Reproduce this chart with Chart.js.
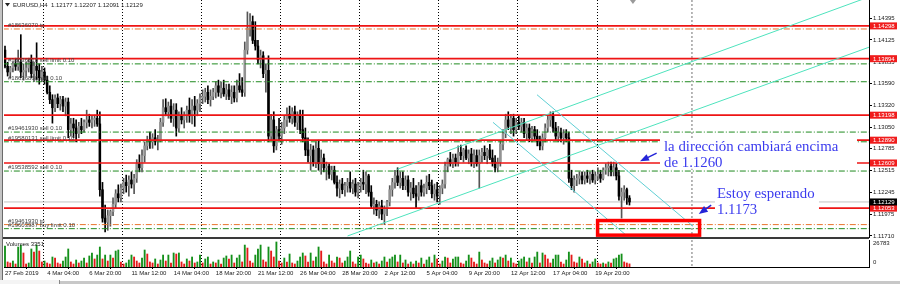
<!DOCTYPE html>
<html lang="es">
<head>
  <meta charset="UTF-8">
  <title>EURUSD,H4</title>
  <script src="https://cdn.jsdelivr.net/npm/chart.js"></script>
  <style>
    body {
      margin: 0;
      width: 900px;
      height: 284px;
      position: relative;
      overflow: hidden;
      background: #fff;
    }
    canvas { position: absolute; left: 0; }
    #mainChart { top: 0; }
    #volChart { top: 239px; }
    #frameLeft { position: absolute; left: 0; top: 0; width: 2px; height: 281px; background: #c4c4c4; }
    #frameLeft2 { position: absolute; left: 2px; top: 0; width: 1px; height: 281px; background: #6a6a6a; }
    #panelSep { position: absolute; left: 3px; top: 237px; width: 866px; height: 2px; background: #3a3a3a; }
    #bottomBar { position: absolute; left: 0; top: 281px; width: 900px; height: 3px; background: #c8c8c8; }
    #tab { position: absolute; left: 0; top: 280px; width: 59px; height: 4px; background: #f4f4f4; border-right: 1px solid #888; }
  </style>
</head>
<body>
  <canvas id="mainChart" width="900" height="238"></canvas>
  <canvas id="volChart" width="900" height="41"></canvas>
  <div id="frameLeft"></div>
  <div id="frameLeft2"></div>
  <div id="panelSep"></div>
  <div id="bottomBar"></div>
  <div id="tab"></div>

  <script>
    // EURUSD H4, 27 Feb 2019 12:00 -> 24 Apr 2019 00:00 (one entry per bar)
    const opens = [
      1.1400,1.1380,1.1373,1.1378,1.1383,1.1380,1.1385,1.1373,1.1375,1.1378,
      1.1385,1.1371,1.1380,1.1375,1.1366,1.1373,1.1363,1.1348,1.1339,1.1329,
      1.1341,1.1334,1.1339,1.1331,1.1336,1.1302,1.1309,1.1304,1.1297,1.1306,
      1.1302,1.1311,1.1314,1.1311,1.1314,1.1316,1.1309,1.1228,1.1193,1.1188,
      1.1196,1.1201,1.1210,1.1223,1.1218,1.1230,1.1237,1.1233,1.1240,1.1235,
      1.1242,1.1260,1.1255,1.1270,1.1282,1.1289,1.1287,1.1292,1.1287,1.1289,
      1.1311,1.1329,1.1324,1.1331,1.1316,1.1326,1.1304,1.1319,1.1314,1.1319,
      1.1326,1.1319,1.1331,1.1326,1.1334,1.1341,1.1343,1.1348,1.1339,1.1343,
      1.1348,1.1356,1.1348,1.1353,1.1346,1.1351,1.1343,1.1348,1.1341,1.1356,
      1.1351,1.1348,1.1400,1.1427,1.1435,1.1412,1.1405,1.1388,1.1393,1.1371,
      1.1375,1.1294,1.1314,1.1282,1.1302,1.1294,1.1304,1.1314,1.1321,1.1316,
      1.1324,1.1311,1.1319,1.1302,1.1292,1.1277,1.1270,1.1277,1.1262,1.1279,
      1.1260,1.1267,1.1255,1.1257,1.1247,1.1252,1.1237,1.1230,1.1235,1.1228,
      1.1233,1.1237,1.1230,1.1235,1.1225,1.1233,1.1237,1.1235,1.1245,1.1225,
      1.1208,1.1210,1.1203,1.1208,1.1198,1.1205,1.1213,1.1228,1.1237,1.1245,
      1.1237,1.1242,1.1233,1.1240,1.1225,1.1230,1.1223,1.1220,1.1233,1.1225,
      1.1230,1.1237,1.1233,1.1223,1.1228,1.1220,1.1230,1.1235,1.1257,1.1265,
      1.1260,1.1267,1.1262,1.1274,1.1270,1.1277,1.1267,1.1272,1.1262,1.1270,
      1.1260,1.1270,1.1274,1.1270,1.1277,1.1267,1.1262,1.1255,1.1262,1.1284,
      1.1297,1.1314,1.1306,1.1316,1.1302,1.1311,1.1306,1.1311,1.1297,1.1304,
      1.1292,1.1302,1.1294,1.1287,1.1282,1.1292,1.1304,1.1314,1.1319,1.1304,
      1.1294,1.1299,1.1292,1.1297,1.1292,1.1242,1.1233,1.1240,1.1242,1.1245,
      1.1240,1.1245,1.1242,1.1247,1.1240,1.1245,1.1247,1.1242,1.1252,1.1255,
      1.1257,1.1250,1.1255,1.1245,1.1220,1.1225,1.1228,1.12177
    ];
    const highs = [
      1.1405,1.1385,1.1380,1.1385,1.1390,1.1400,1.1419,1.1383,1.1385,1.1390,
      1.1394,1.1385,1.1409,1.1383,1.1380,1.1378,1.1368,1.1356,1.1345,1.1345,
      1.1346,1.1343,1.1343,1.1341,1.1341,1.1316,1.1316,1.1314,1.1311,1.1316,
      1.1314,1.1326,1.1321,1.1319,1.1320,1.1326,1.1324,1.1237,1.1209,1.1203,
      1.1203,1.1218,1.1228,1.1234,1.1235,1.1242,1.1246,1.1245,1.1250,1.1247,
      1.1265,1.1271,1.1277,1.1287,1.1294,1.1299,1.1297,1.1302,1.1295,1.1316,
      1.1339,1.1340,1.1336,1.1339,1.1334,1.1334,1.1324,1.1329,1.1324,1.1331,
      1.1341,1.1339,1.1343,1.1339,1.1346,1.1351,1.1353,1.1356,1.1351,1.1353,
      1.1361,1.1363,1.1361,1.1363,1.1358,1.1358,1.1356,1.1356,1.1363,1.1371,
      1.1366,1.1410,1.1447,1.1445,1.1442,1.1435,1.1412,1.1400,1.1398,1.1383,
      1.1393,1.1321,1.1324,1.1306,1.1316,1.1311,1.1319,1.1329,1.1331,1.1329,
      1.1331,1.1324,1.1326,1.1326,1.1304,1.1292,1.1284,1.1282,1.1287,1.1289,
      1.1277,1.1272,1.1262,1.1260,1.1257,1.1257,1.1245,1.1240,1.1242,1.1237,
      1.1242,1.1250,1.1240,1.1242,1.1237,1.1242,1.1252,1.1250,1.1247,1.1233,
      1.1218,1.1215,1.1213,1.1215,1.1208,1.1215,1.1233,1.1242,1.1252,1.1255,
      1.1250,1.1250,1.1245,1.1245,1.1237,1.1242,1.1233,1.1237,1.1240,1.1235,
      1.1245,1.1247,1.1240,1.1235,1.1237,1.1233,1.1240,1.1262,1.1267,1.1274,
      1.1272,1.1272,1.1282,1.1283,1.1279,1.1282,1.1277,1.1279,1.1277,1.1277,
      1.1277,1.1279,1.1282,1.1279,1.1284,1.1277,1.1270,1.1267,1.1289,1.1302,
      1.1321,1.1324,1.1321,1.1321,1.1316,1.1319,1.1316,1.1316,1.1309,1.1309,
      1.1306,1.1306,1.1302,1.1294,1.1297,1.1309,1.1319,1.1324,1.1324,1.1311,
      1.1306,1.1304,1.1302,1.1302,1.1299,1.1252,1.1245,1.1247,1.1250,1.1250,
      1.1250,1.1252,1.1250,1.1252,1.1250,1.1255,1.1252,1.1255,1.1260,1.1262,
      1.1262,1.1262,1.1260,1.1252,1.1230,1.1233,1.1230,1.12207
    ];
    const lows = [
      1.1378,1.1368,1.1366,1.1373,1.1375,1.1375,1.1366,1.1363,1.1368,1.1373,
      1.1366,1.1361,1.1363,1.1358,1.1361,1.1358,1.1346,1.1334,1.1310,1.1324,
      1.1329,1.1326,1.1324,1.1319,1.1292,1.1294,1.1292,1.1287,1.1292,1.1297,
      1.1299,1.1304,1.1306,1.1304,1.1306,1.1306,1.1220,1.1188,1.1176,1.1178,
      1.1183,1.1196,1.1205,1.1213,1.1213,1.1223,1.1225,1.1220,1.1230,1.1223,
      1.1237,1.1250,1.1250,1.1262,1.1277,1.1279,1.1279,1.1283,1.1277,1.1287,
      1.1306,1.1319,1.1316,1.1311,1.1306,1.1294,1.1299,1.1309,1.1304,1.1311,
      1.1311,1.1309,1.1306,1.1319,1.1324,1.1334,1.1336,1.1334,1.1331,1.1339,
      1.1341,1.1343,1.1341,1.1343,1.1339,1.1339,1.1334,1.1336,1.1336,1.1348,
      1.1343,1.1343,1.1395,1.1417,1.1408,1.1400,1.1383,1.1378,1.1366,1.1348,
      1.1287,1.1289,1.1274,1.1277,1.1289,1.1284,1.1297,1.1306,1.1311,1.1309,
      1.1306,1.1302,1.1297,1.1287,1.1270,1.1262,1.1252,1.1257,1.1255,1.1252,
      1.1247,1.1250,1.1240,1.1242,1.1240,1.1235,1.1220,1.1218,1.1223,1.1220,
      1.1225,1.1225,1.1223,1.1220,1.1218,1.1225,1.1228,1.1223,1.1220,1.1205,
      1.1198,1.1196,1.1193,1.1191,1.1185,1.1196,1.1208,1.1220,1.1230,1.1233,
      1.1230,1.1228,1.1228,1.1220,1.1215,1.1218,1.1205,1.1215,1.1220,1.1220,
      1.1223,1.1228,1.1218,1.1215,1.1213,1.1210,1.1223,1.1230,1.1250,1.1257,
      1.1255,1.1257,1.1257,1.1265,1.1262,1.1265,1.1260,1.1257,1.1255,1.1257,
      1.1230,1.1262,1.1265,1.1260,1.1265,1.1257,1.1250,1.1250,1.1257,1.1277,
      1.1292,1.1302,1.1297,1.1294,1.1297,1.1302,1.1299,1.1292,1.1289,1.1287,
      1.1287,1.1289,1.1282,1.1277,1.1277,1.1287,1.1299,1.1306,1.1299,1.1289,
      1.1287,1.1287,1.1284,1.1287,1.1237,1.1228,1.1225,1.1233,1.1235,1.1235,
      1.1235,1.1237,1.1235,1.1237,1.1235,1.1240,1.1237,1.1240,1.1247,1.1245,
      1.1245,1.1245,1.1240,1.1215,1.1193,1.1215,1.1210,1.12091
    ];
    const closes = [
      1.1380,1.1373,1.1378,1.1383,1.1380,1.1385,1.1373,1.1375,1.1378,1.1385,
      1.1371,1.1380,1.1375,1.1366,1.1373,1.1363,1.1348,1.1339,1.1329,1.1341,
      1.1334,1.1339,1.1331,1.1336,1.1302,1.1309,1.1304,1.1297,1.1306,1.1302,
      1.1311,1.1314,1.1311,1.1314,1.1316,1.1309,1.1228,1.1193,1.1188,1.1196,
      1.1201,1.1210,1.1223,1.1218,1.1230,1.1237,1.1233,1.1240,1.1235,1.1242,
      1.1260,1.1255,1.1270,1.1282,1.1289,1.1287,1.1292,1.1287,1.1289,1.1311,
      1.1329,1.1324,1.1331,1.1316,1.1326,1.1304,1.1319,1.1314,1.1319,1.1326,
      1.1319,1.1331,1.1326,1.1334,1.1341,1.1343,1.1348,1.1339,1.1343,1.1348,
      1.1356,1.1348,1.1353,1.1346,1.1351,1.1343,1.1348,1.1341,1.1356,1.1351,
      1.1348,1.1400,1.1427,1.1435,1.1412,1.1405,1.1388,1.1393,1.1371,1.1375,
      1.1294,1.1314,1.1282,1.1302,1.1294,1.1304,1.1314,1.1321,1.1316,1.1324,
      1.1311,1.1319,1.1302,1.1292,1.1277,1.1270,1.1277,1.1262,1.1279,1.1260,
      1.1267,1.1255,1.1257,1.1247,1.1252,1.1237,1.1230,1.1235,1.1228,1.1233,
      1.1237,1.1230,1.1235,1.1225,1.1233,1.1237,1.1235,1.1245,1.1225,1.1208,
      1.1210,1.1203,1.1208,1.1198,1.1205,1.1213,1.1228,1.1237,1.1245,1.1237,
      1.1242,1.1233,1.1240,1.1225,1.1230,1.1223,1.1220,1.1233,1.1225,1.1230,
      1.1237,1.1233,1.1223,1.1228,1.1220,1.1230,1.1235,1.1257,1.1265,1.1260,
      1.1267,1.1262,1.1274,1.1270,1.1277,1.1267,1.1272,1.1262,1.1270,1.1260,
      1.1270,1.1274,1.1270,1.1277,1.1267,1.1262,1.1255,1.1262,1.1284,1.1297,
      1.1314,1.1306,1.1316,1.1302,1.1311,1.1306,1.1311,1.1297,1.1304,1.1292,
      1.1302,1.1294,1.1287,1.1282,1.1292,1.1304,1.1314,1.1319,1.1304,1.1294,
      1.1299,1.1292,1.1297,1.1292,1.1242,1.1233,1.1240,1.1242,1.1245,1.1240,
      1.1245,1.1242,1.1247,1.1240,1.1245,1.1247,1.1242,1.1252,1.1255,1.1257,
      1.1250,1.1255,1.1245,1.1220,1.1225,1.1228,1.1218,1.12129
    ];
    const volumes = [
      22500,5400,4300,6400,3200,21400,23500,15000,3200,4300,
      19300,16000,23500,17100,5400,6400,4300,3200,10700,9600,
      4300,3200,6400,10700,19300,5400,3200,7500,4300,6400,
      9600,4300,11800,15000,8600,12800,21400,8600,12800,6400,
      12800,9600,17100,18200,5400,3200,4300,7500,12800,10700,
      6400,4300,9600,18200,13900,5400,4300,8600,3200,7500,
      12800,6400,12800,4300,15000,13900,15000,5400,3200,8600,
      6400,10700,4300,5400,12800,4300,8600,10700,3200,5400,
      4300,7500,3200,9600,11800,8600,12800,4300,9600,12800,
      5400,23500,20300,6400,4300,12800,19300,23500,7500,5400,
      21400,17100,10700,26783,6400,4300,9600,5400,13900,4300,
      3200,6400,10700,15000,11800,5400,15000,6400,10700,21400,
      17100,5400,3200,12800,6400,4300,10700,9600,4300,6400,
      10700,17100,5400,3200,10700,12800,8600,4300,3200,7500,
      4300,5400,3200,6400,10700,5400,8600,10700,12800,5400,
      12800,4300,7500,3200,5400,3200,6400,4300,9600,3200,
      7500,10700,4300,12800,8600,3200,6400,10700,9600,4300,
      8600,10700,10700,4300,3200,6400,12800,9600,5400,3200,
      16000,7500,4300,3200,6400,9600,4300,7500,10700,9600,
      12800,6400,9600,4300,3200,6400,8600,10700,5400,9600,
      4300,10700,16000,4300,15000,12800,8600,4300,8600,12800,
      12800,5400,3200,7500,16000,12800,5400,4300,10700,8600,
      4300,6400,3200,5400,8600,4300,3200,4300,3200,5400,
      4300,8600,9600,12800,13900,5400,4300,3351
    ];

    const timeTickBars = [0, 16, 32, 48, 64, 80, 96, 112, 128, 144, 160, 176, 192, 208, 224];
    const timeLabels = ['27 Feb 2019', '4 Mar 04:00', '6 Mar 20:00', '11 Mar 12:00', '14 Mar 04:00',
      '18 Mar 20:00', '21 Mar 12:00', '26 Mar 04:00', '28 Mar 20:00', '2 Apr 12:00',
      '5 Apr 04:00', '9 Apr 20:00', '12 Apr 12:00', '17 Apr 04:00', '19 Apr 20:00'];
    const priceTicks = [1.11710, 1.11975, 1.12245, 1.12515, 1.12785, 1.13050, 1.13320, 1.13590, 1.13855, 1.14125, 1.14395];
    const volumeTicks = [0, 26783];

    // horizontal levels
    const redLevels = [1.14298, 1.13894, 1.13198, 1.12890, 1.12609, 1.12053];
    const bidPrice = 1.12129;
    const orderPrices = [1.1426, 1.1383, 1.1361, 1.1299, 1.1287, 1.1251, 1.1185, 1.1180];
    const orderLabels = ['#18636070 tp', '#18636810 sell limit 0.10', '#18636860 sell 0.10', '#19461930 sell 0.10',
      '#19580131 sell limit 0.10', '#19538592 sell 0.10', '#19461930 tp', '#19603987 buy limit 0.10'];
    const orderIsTp = [true, false, false, false, false, false, true, false];

    // week separators and the grey vertical line (bar index)
    const separatorBars = [14.5, 44.5, 74.5, 104.5, 134.5, 164.5, 194.5, 224.5];
    const markerBar = 260.7;
    const shiftBar = 238.3;

    // drawn objects, [bar, price]
    const channelTop = [[148.7, 1.1253], [330, 1.1468]];
    const channelBottom = [[130, 1.1171], [330, 1.1406]];
    const downLineA = [[201.9, 1.1345], [261.1, 1.1183]];
    const downLineB = [[185.2, 1.1311], [236.1, 1.1171]];
    const targetBox = [[224.9, 1.1190], [263.6, 1.1172]];
    const arrow1 = [[247.3, 1.1273], [241.0, 1.1263]];
    const arrow2 = [[268.0, 1.1209], [263.3, 1.1198]];
    const note1Lines = ['la dirección cambiará encima', 'de 1.1260'];
    const note1Anchor = [250.1, 1.1276];
    const note2Lines = ['Estoy esperando', '1.1173'];
    const note2Anchor = [270.2, 1.1218];

    const FONT = "'Liberation Sans', Arial, sans-serif";
    Chart.defaults.font.family = FONT;

    const X_MIN = -0.38, X_MAX = 327.9;
    const bars = closes.map((c, i) => i);
    const isBull = bars.map(i => closes[i] >= opens[i]);

    function hline(price, color, width, dash, order) {
      return {
        type: 'line', data: [{ x: -5, y: price }, { x: 335, y: price }],
        borderColor: color, borderWidth: width, borderDash: dash || [],
        pointRadius: 0, order: order, fill: false
      };
    }
    function segLine(pts, color, width, order) {
      return {
        type: 'line', data: pts.map(p => ({ x: p[0], y: p[1] })),
        borderColor: color, borderWidth: width, pointRadius: 0, order: order, fill: false
      };
    }

    const datasets = [];
    // candles
    datasets.push({
      type: 'bar', data: bars.map(i => ({ x: i, y: [lows[i], highs[i]] })),
      backgroundColor: bars.map(i => isBull[i] ? '#555' : '#000'),
      barThickness: 1, grouped: false, order: 21
    });
    datasets.push({
      type: 'bar', data: bars.map(i => ({ x: i, y: [opens[i], closes[i]] })),
      backgroundColor: bars.map(i => isBull[i] ? '#929292' : '#000'),
      barThickness: 1.9, minBarLength: 1, grouped: false, order: 20
    });
    // bid line
    datasets.push(hline(bidPrice, '#c4c4c4', 1, null, 22));
    // order lines
    orderPrices.forEach((p, k) => {
      datasets.push(hline(p, orderIsTp[k] ? '#e8742c' : '#1f8a1f', 1, [6, 2, 1, 2], 8));
    });
    // red levels
    redLevels.forEach(p => datasets.push(hline(p, '#ee1414', 1.7, null, 6)));
    // channel and trend lines
    datasets.push(segLine(channelTop, '#4ee3bd', 1, 4));
    datasets.push(segLine(channelBottom, '#4ee3bd', 1, 4));
    datasets.push(segLine(downLineA, '#5fcfd4', 1, 4));
    datasets.push(segLine(downLineB, '#5fcfd4', 1, 4));

    function drawArrow(ctx, xs, ys, seg) {
      const x1 = xs.getPixelForValue(seg[0][0]), y1 = ys.getPixelForValue(seg[0][1]);
      const x2 = xs.getPixelForValue(seg[1][0]), y2 = ys.getPixelForValue(seg[1][1]);
      const a = Math.atan2(y2 - y1, x2 - x1);
      ctx.save();
      ctx.strokeStyle = '#2424d8';
      ctx.fillStyle = '#2424d8';
      ctx.lineWidth = 1.5;
      ctx.beginPath();
      ctx.moveTo(x1, y1);
      ctx.lineTo(x2 - 5 * Math.cos(a), y2 - 5 * Math.sin(a));
      ctx.stroke();
      ctx.beginPath();
      ctx.moveTo(x2, y2);
      ctx.lineTo(x2 - 9 * Math.cos(a) + 3.5 * Math.sin(a), y2 - 9 * Math.sin(a) - 3.5 * Math.cos(a));
      ctx.lineTo(x2 - 9 * Math.cos(a) - 3.5 * Math.sin(a), y2 - 9 * Math.sin(a) + 3.5 * Math.cos(a));
      ctx.closePath();
      ctx.fill();
      ctx.restore();
    }

    function drawNote(ctx, xs, ys, anchor, lines, box) {
      const x = xs.getPixelForValue(anchor[0]);
      const y = ys.getPixelForValue(anchor[1]);
      ctx.save();
      ctx.fillStyle = '#fff';
      ctx.fillRect(x + box.left, y + box.top, box.width, box.height);
      ctx.fillStyle = '#3a3aee';
      ctx.font = "14px 'Liberation Serif', 'Times New Roman', serif";
      ctx.textBaseline = 'alphabetic';
      lines.forEach((t, k) => {
        ctx.save();
        ctx.translate(x, y + k * 16);
        ctx.scale(1.06, 1);
        ctx.fillText(t, 0, 0);
        ctx.restore();
      });
      ctx.restore();
    }

    const mainPlugin = {
      id: 'mt4main',
      beforeDatasetsDraw(chart) {
        const { ctx, chartArea: a, scales: { x: xs } } = chart;
        ctx.save();
        ctx.strokeStyle = '#000';
        ctx.lineWidth = 1;
        ctx.setLineDash([1, 2]);
        separatorBars.forEach(b => {
          const px = Math.round(xs.getPixelForValue(b)) + 0.5;
          ctx.beginPath(); ctx.moveTo(px, a.top); ctx.lineTo(px, a.bottom); ctx.stroke();
        });
        ctx.strokeStyle = '#a0a0a0';
        ctx.lineWidth = 1.5;
        ctx.setLineDash([2, 2]);
        const mx = xs.getPixelForValue(markerBar);
        ctx.beginPath(); ctx.moveTo(mx, a.top); ctx.lineTo(mx, a.bottom); ctx.stroke();
        ctx.restore();
      },
      afterDatasetsDraw(chart) {
        const { ctx, chartArea: a, scales: { x: xs, y: ys } } = chart;
        ctx.save();
        ctx.beginPath();
        ctx.rect(a.left, a.top, a.right - a.left, a.bottom - a.top);
        ctx.clip();

        // order labels
        ctx.font = '6px ' + FONT;
        ctx.fillStyle = '#404040';
        ctx.textBaseline = 'bottom';
        orderPrices.forEach((p, k) => {
          ctx.fillText(orderLabels[k], 8, ys.getPixelForValue(p) - 0.5);
        });

        // target rectangle
        const bx1 = xs.getPixelForValue(targetBox[0][0]), by1 = ys.getPixelForValue(targetBox[0][1]);
        const bx2 = xs.getPixelForValue(targetBox[1][0]), by2 = ys.getPixelForValue(targetBox[1][1]);
        ctx.strokeStyle = '#f00';
        ctx.lineWidth = 3.5;
        ctx.strokeRect(bx1, by1, bx2 - bx1, by2 - by1);

        // text notes and arrows
        drawNote(ctx, xs, ys, note1Anchor, note1Lines, { left: -4, top: -12, width: 197, height: 30 });
        drawNote(ctx, xs, ys, note2Anchor, note2Lines, { left: -2, top: -12, width: 104, height: 29 });
        drawArrow(ctx, xs, ys, arrow1);
        drawArrow(ctx, xs, ys, arrow2);

        // header
        ctx.fillStyle = '#222';
        ctx.beginPath(); ctx.moveTo(5, 3); ctx.lineTo(10, 3); ctx.lineTo(7.5, 6.5); ctx.closePath(); ctx.fill();
        ctx.font = '6px ' + FONT;
        ctx.textBaseline = 'middle';
        ctx.fillText('EURUSD,H4  1.12177 1.12207 1.12091 1.12129', 13, 5);

        // chart shift marker
        const sx = xs.getPixelForValue(shiftBar);
        ctx.fillStyle = '#9a9a9a';
        ctx.beginPath(); ctx.moveTo(sx - 3, 0); ctx.lineTo(sx + 3, 0); ctx.lineTo(sx, 4); ctx.closePath(); ctx.fill();
        ctx.restore();
      },
      afterDraw(chart) {
        const { ctx, chartArea: a, scales: { y: ys } } = chart;
        ctx.save();
        ctx.font = '6px ' + FONT;
        ctx.textBaseline = 'middle';
        const tag = (p, bg) => {
          const py = ys.getPixelForValue(p);
          ctx.fillStyle = bg;
          ctx.fillRect(a.right + 1, py - 3.5, 27, 7);
          ctx.fillStyle = '#fff';
          ctx.fillText(p.toFixed(5), a.right + 4, py + 0.5);
        };
        redLevels.forEach(p => tag(p, '#f01c1c'));
        tag(bidPrice, '#000');
        ctx.restore();
      }
    };

    new Chart(document.getElementById('mainChart'), {
      type: 'bar',
      data: { datasets: datasets },
      options: {
        responsive: false,
        animation: false,
        events: [],
        layout: { padding: { left: 4, right: 0, top: 0, bottom: 0 } },
        plugins: { legend: { display: false }, tooltip: { enabled: false } },
        scales: {
          x: { type: 'linear', min: X_MIN, max: X_MAX, offset: false, display: false, bounds: 'data' },
          y: {
            position: 'right', min: 1.11685, max: 1.14617, bounds: 'data',
            afterBuildTicks: s => { s.ticks = priceTicks.map(v => ({ value: v })); },
            afterFit: s => { s.width = 31; s.paddingTop = 0; s.paddingBottom = 0; },
            ticks: { autoSkip: false, font: { size: 6 }, color: '#1a1a1a', padding: 1, callback: v => v.toFixed(5) },
            grid: { drawOnChartArea: false, tickLength: 3, color: '#000' },
            border: { display: true, color: '#000' }
          }
        }
      },
      plugins: [mainPlugin]
    });

    // volume window
    const volPlugin = {
      id: 'mt4vol',
      beforeDatasetsDraw(chart) {
        const { ctx, chartArea: a, scales: { x: xs } } = chart;
        ctx.save();
        ctx.strokeStyle = '#000';
        ctx.lineWidth = 1;
        ctx.setLineDash([1, 2]);
        separatorBars.forEach(b => {
          const px = Math.round(xs.getPixelForValue(b)) + 0.5;
          ctx.beginPath(); ctx.moveTo(px, a.top); ctx.lineTo(px, a.bottom); ctx.stroke();
        });
        ctx.strokeStyle = '#a0a0a0';
        ctx.lineWidth = 1.5;
        ctx.setLineDash([2, 2]);
        const mx = xs.getPixelForValue(markerBar);
        ctx.beginPath(); ctx.moveTo(mx, a.top); ctx.lineTo(mx, a.bottom); ctx.stroke();
        ctx.restore();
      },
      afterDraw(chart) {
        const { ctx, chartArea: a, scales: { y: ys } } = chart;
        ctx.save();
        ctx.font = '6px ' + FONT;
        ctx.fillStyle = '#1a1a1a';
        ctx.textBaseline = 'middle';
        ctx.fillText('Volumes ' + volumes[volumes.length - 1], 6, a.top + 4.5);
        ctx.fillText(String(volumeTicks[1]), a.right + 4, ys.getPixelForValue(volumeTicks[1]) + 1.5);
        ctx.fillText(String(volumeTicks[0]), a.right + 4, ys.getPixelForValue(volumeTicks[0]) - 5);
        ctx.restore();
      }
    };

    new Chart(document.getElementById('volChart'), {
      type: 'bar',
      data: {
        datasets: [{
          data: bars.map(i => ({ x: i, y: volumes[i] })),
          backgroundColor: bars.map(i => (i > 0 && volumes[i] < volumes[i - 1]) ? '#e51a1a' : '#14901a'),
          barThickness: 1.2, grouped: false
        }]
      },
      options: {
        responsive: false,
        animation: false,
        events: [],
        layout: { padding: { left: 4, right: 0, top: 1, bottom: 0 } },
        plugins: { legend: { display: false }, tooltip: { enabled: false } },
        scales: {
          x: {
            type: 'linear', min: X_MIN, max: X_MAX, offset: false, bounds: 'data',
            afterBuildTicks: s => { s.ticks = timeTickBars.map(v => ({ value: v })); },
            afterFit: s => { s.height = 13; s.paddingLeft = 0; s.paddingRight = 0; },
            ticks: { autoSkip: false, maxRotation: 0, align: 'start', font: { size: 6 }, color: '#1a1a1a', padding: 1,
              callback: (v, idx) => timeLabels[idx] },
            grid: { drawOnChartArea: false, tickLength: 2, color: '#000' },
            border: { display: true, color: '#000' }
          },
          y: {
            position: 'right', min: 0, max: 28900, bounds: 'data',
            afterFit: s => { s.width = 31; s.paddingTop = 0; s.paddingBottom = 0; },
            ticks: { display: false },
            grid: { display: false },
            border: { display: true, color: '#000' }
          }
        }
      },
      plugins: [volPlugin]
    });
  </script>
</body>
</html>
